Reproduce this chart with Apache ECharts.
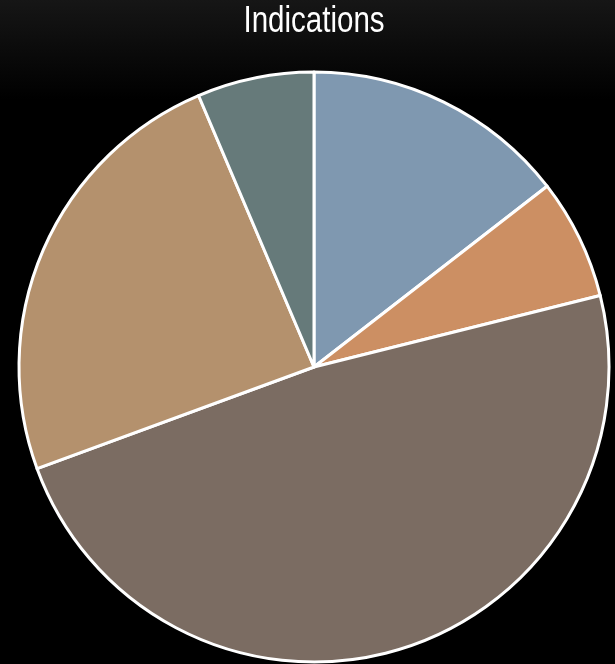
<!DOCTYPE html>
<html><head><meta charset="utf-8">
<script src="https://cdn.jsdelivr.net/npm/echarts@6/dist/echarts.min.js"></script>
<style>html,body{margin:0;padding:0;background:#000;}#c{width:615px;height:664px;}</style>
</head><body><div id="c"></div>
<script>
const titleText = "Indications";
const categories = ["Indication 1", "Indication 2", "Indication 3", "Indication 4", "Indication 5"];
const values = [14.5, 6.6, 48.3, 24.2, 6.4];
const colors = ["#7f98b0", "#cc8f63", "#7b6c62", "#b4916d", "#667a7a"];

const chart = echarts.init(document.getElementById('c'), null, {renderer: 'canvas'});
chart.setOption({
  backgroundColor: {
    type: 'linear', x: 0, y: 0, x2: 0, y2: 1,
    colorStops: [{offset: 0, color: '#161616'}, {offset: 0.15, color: '#000000'}, {offset: 1, color: '#000000'}]
  },
  graphic: [{
    type: 'text', x: 314, y: 22.5, scaleX: 0.82, originX: 0,
    style: {
      text: titleText, fill: '#ffffff', align: 'center', verticalAlign: 'middle',
      font: 'normal 36px "Liberation Sans", Arial, sans-serif'
    }
  }],
  animation: false,
  series: [{
    type: 'pie',
    center: [314, 367],
    radius: [0, 295],
    startAngle: 90,
    clockwise: true,
    label: {show: false},
    labelLine: {show: false},
    itemStyle: {borderColor: '#ffffff', borderWidth: 3},
    data: categories.map((n, i) => ({name: n, value: values[i], itemStyle: {color: colors[i]}}))
  }]
});
</script></body></html>
